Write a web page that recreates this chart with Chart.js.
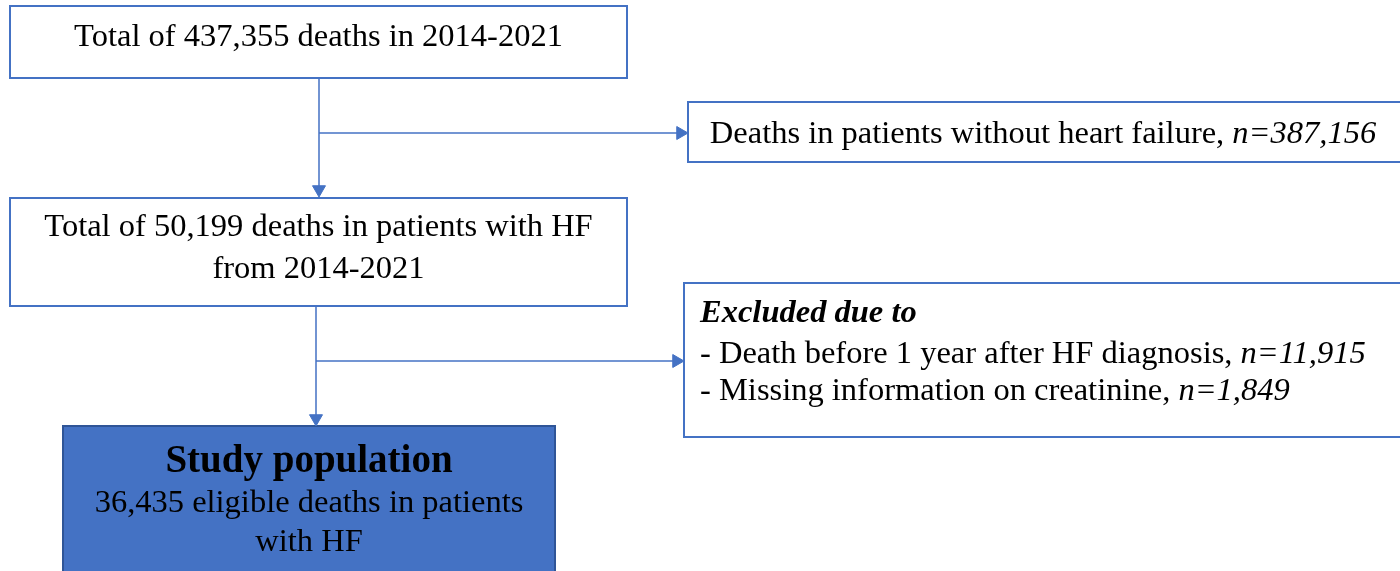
<!DOCTYPE html>
<html>
<head>
<meta charset="utf-8">
<script src="https://cdn.jsdelivr.net/npm/chart.js@4.4.1/dist/chart.umd.min.js"></script>
<style>
  html, body { margin: 0; padding: 0; background: #fff; overflow: hidden; }
</style>
</head>
<body>
<canvas id="flowChart" width="1400" height="571"></canvas>
<script>
// Flow of deaths through the selection steps
const studyYears = '2014-2021';
const stepCounts = [437355, 50199, 36435];
const excludedNoHF = 387156;
const excludedReasons = ['Death before 1 year after HF diagnosis', 'Missing information on creatinine'];
const excludedCounts = [11915, 1849];

// Layout of the boxes (page units, y grows downward)
const boxLayout = [
    { x0: 10,  y0: 6,   x1: 627,  y1: 78 },
    { x0: 688, y0: 102, x1: 1410, y1: 162 },
    { x0: 10,  y0: 198, x1: 627,  y1: 306 },
    { x0: 684, y0: 283, x1: 1410, y1: 437 },
    { x0: 63,  y0: 426, x1: 555,  y1: 600, filled: true }
];

// Connector lines, last point carries the arrow head
const connectorPaths = [
    { pts: [[319, 78], [319, 189.5]], dir: 180 },
    { pts: [[319, 133], [680.5, 133]], dir: 90 },
    { pts: [[316, 306], [316, 418.5]], dir: 180 },
    { pts: [[316, 361], [676.5, 361]], dir: 90 }
];

const BLUE = '#4472C4';
const FONT = '"Liberation Serif", "Times New Roman", serif';
const fmt = n => n.toLocaleString('en-US');

// Text lines of each box: segments with style
const boxTexts = [
    { align: 'center', lines: [
        { y: 46, segs: [{ t: `Total of ${fmt(stepCounts[0])} deaths in ${studyYears}` }] }
    ]},
    { align: 'center', lines: [
        { y: 143, segs: [{ t: 'Deaths in patients without heart failure, ' }, { t: `n=${fmt(excludedNoHF)}`, s: 'italic' }] }
    ]},
    { align: 'center', lines: [
        { y: 236, segs: [{ t: `Total of ${fmt(stepCounts[1])} deaths in patients with HF` }] },
        { y: 278, segs: [{ t: `from ${studyYears}` }] }
    ]},
    { align: 'left', x: 700, lines: [
        { y: 322, segs: [{ t: 'Excluded due to', s: 'italic bold' }] },
        { y: 363, segs: [{ t: `- ${excludedReasons[0]}, ` }, { t: `n=${fmt(excludedCounts[0])}`, s: 'italic' }] },
        { y: 400, segs: [{ t: `- ${excludedReasons[1]}, ` }, { t: `n=${fmt(excludedCounts[1])}`, s: 'italic' }] }
    ]},
    { align: 'center', lines: [
        { y: 472, segs: [{ t: 'Study population', s: 'bold', size: 39 }] },
        { y: 512, segs: [{ t: `${fmt(stepCounts[2])} eligible deaths in patients` }] },
        { y: 551, segs: [{ t: 'with HF' }] }
    ]}
];

const flowPlugin = {
    id: 'flowBoxes',
    beforeDatasetsDraw(chart) {
        const { ctx, scales: { x, y } } = chart;
        ctx.save();
        boxLayout.forEach(b => {
            const px0 = x.getPixelForValue(b.x0), px1 = x.getPixelForValue(b.x1);
            const py0 = y.getPixelForValue(b.y0), py1 = y.getPixelForValue(b.y1);
            if (b.filled) {
                ctx.fillStyle = BLUE;
                ctx.fillRect(px0, py0, px1 - px0, py1 - py0);
                ctx.strokeStyle = '#2F5597';
            } else {
                ctx.strokeStyle = BLUE;
            }
            ctx.lineWidth = 2;
            ctx.strokeRect(px0, py0, px1 - px0, py1 - py0);
        });
        ctx.restore();
    },
    afterDraw(chart) {
        const { ctx, scales: { x, y } } = chart;
        ctx.save();
        ctx.fillStyle = '#000';
        ctx.textBaseline = 'alphabetic';
        ctx.textAlign = 'left';
        boxTexts.forEach((bt, i) => {
            const b = boxLayout[i];
            bt.lines.forEach(line => {
                const fonts = line.segs.map(s => `${s.s || 'normal'} ${s.size || 32.5}px ${FONT}`);
                let total = 0;
                const widths = line.segs.map((s, k) => {
                    ctx.font = fonts[k];
                    const w = ctx.measureText(s.t).width;
                    total += w;
                    return w;
                });
                let px;
                if (bt.align === 'center') {
                    px = x.getPixelForValue((b.x0 + Math.min(b.x1, 1398)) / 2) - total / 2;
                } else {
                    px = x.getPixelForValue(bt.x);
                }
                const py = y.getPixelForValue(line.y);
                line.segs.forEach((s, k) => {
                    ctx.font = fonts[k];
                    ctx.fillText(s.t, px, py);
                    px += widths[k];
                });
            });
        });
        ctx.restore();
    }
};

const datasets = connectorPaths.map(c => ({
    data: c.pts.map(p => ({ x: p[0], y: p[1] })),
    showLine: true,
    borderColor: BLUE,
    borderWidth: 1.5,
    backgroundColor: BLUE,
    pointStyle: 'triangle',
    pointRotation: c.dir,
    pointRadius: c.pts.map((p, k) => (k === c.pts.length - 1 ? 7.5 : 0)),
    pointBorderWidth: 1,
    pointBorderColor: BLUE,
    pointBackgroundColor: BLUE,
    clip: false
}));

new Chart(document.getElementById('flowChart'), {
    type: 'scatter',
    data: { datasets },
    options: {
        responsive: false,
        animation: false,
        layout: { padding: 0, autoPadding: false },
        plugins: { legend: { display: false }, tooltip: { enabled: false } },
        scales: {
            x: { type: 'linear', min: 0, max: 1400, display: false },
            y: { type: 'linear', min: 0, max: 571, reverse: true, display: false }
        }
    },
    plugins: [flowPlugin]
});
</script>
</body>
</html>
